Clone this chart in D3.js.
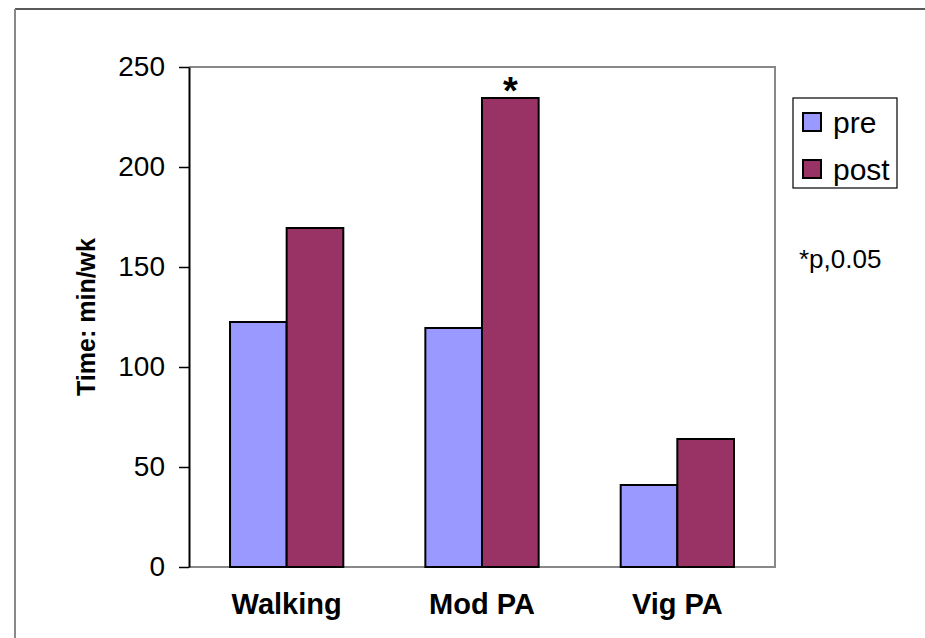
<!DOCTYPE html>
<html><head><meta charset="utf-8">
<script src="https://cdn.jsdelivr.net/npm/d3@7"></script>
<style>body{margin:0;background:#fff}svg{display:block}text{font-family:Arial,"Liberation Sans",sans-serif}</style>
</head><body>
<svg id="c" width="925" height="638"></svg>
<script>
const categories = ["Walking", "Mod PA", "Vig PA"];
const seriesNames = ["pre", "post"];
const preValues = [122.5, 119.5, 41];
const postValues = [169.5, 234.5, 64];
const yTicks = [0, 50, 100, 150, 200, 250];
const colors = ["#9999FF", "#993366"];
const significant = [false, true, false];

const svg = d3.select("#c");
const m = {l:189, r:775, t:67, b:567};
const x0 = d3.scaleBand().domain(categories).range([m.l, m.r]).paddingInner(0.42).paddingOuter(0.21);
const x1 = d3.scaleBand().domain(seriesNames).range([0, x0.bandwidth()]);
const y = d3.scaleLinear().domain([0, 250]).range([m.b, m.t]);

// outer frame
svg.append("line").attr("x1",15).attr("x2",925).attr("y1",9).attr("y2",9).attr("stroke","#222").attr("stroke-width",1.5);
svg.append("line").attr("x1",15).attr("x2",15).attr("y1",9).attr("y2",638).attr("stroke","#888").attr("stroke-width",2);

// plot border
svg.append("path").attr("d",`M${m.l},${m.t}H${m.r}V${m.b}H${m.l}`).attr("fill","none").attr("stroke","#888").attr("stroke-width",2);

const data = categories.map((c,i)=>({cat:c, vals:[preValues[i], postValues[i]]}));
const g = svg.append("g");
data.forEach((d,i)=>{
  d.vals.forEach((v,j)=>{
    g.append("rect").attr("x", x0(d.cat)+x1(seriesNames[j])).attr("y", y(v))
     .attr("width", x1.bandwidth()).attr("height", y(0)-y(v))
     .attr("fill", colors[j]).attr("stroke","#000").attr("stroke-width",2);
  });
  if (significant[i]) {
    g.append("text").attr("x", x0(d.cat)+x1("post")+x1.bandwidth()/2).attr("y", y(d.vals[1])+6)
     .attr("text-anchor","middle").attr("font-size",38).attr("font-weight","bold").text("*");
  }
});

// y axis
const ya = svg.append("g").attr("transform",`translate(${m.l},0)`)
  .call(d3.axisLeft(y).tickValues(yTicks).tickSize(10).tickSizeOuter(0).tickPadding(14));
ya.select(".domain").attr("stroke","#000").attr("stroke-width",2);
ya.selectAll(".tick line").attr("stroke","#000").attr("stroke-width",1.5);
ya.selectAll(".tick text").attr("font-size",28).attr("fill","#000").attr("font-family","Arial,'Liberation Sans',sans-serif");

// x labels
svg.selectAll(".xl").data(categories).enter().append("text")
  .attr("x", d=>x0(d)+x0.bandwidth()/2).attr("y", 614)
  .attr("text-anchor","middle").attr("font-size",29).attr("font-weight","bold").text(d=>d);

// y title
svg.append("text").attr("transform",`translate(95,${(m.t+m.b)/2}) rotate(-90)`)
  .attr("text-anchor","middle").attr("font-size",25).attr("font-weight","bold").text("Time: min/wk");

// legend
const lg = svg.append("g");
lg.append("rect").attr("x",793).attr("y",98).attr("width",104).attr("height",90).attr("fill","#fff").attr("stroke","#000").attr("stroke-width",1.2);
seriesNames.forEach((s,j)=>{
  lg.append("rect").attr("x",803).attr("y",113+j*47).attr("width",18).attr("height",18)
    .attr("fill",colors[j]).attr("stroke","#000").attr("stroke-width",2);
  lg.append("text").attr("x",833).attr("y",133+j*47).attr("font-size",30).text(s);
});

// note
svg.append("text").attr("x",799).attr("y",268).attr("font-size",26).text("*p,0.05");
</script>
</body></html>
